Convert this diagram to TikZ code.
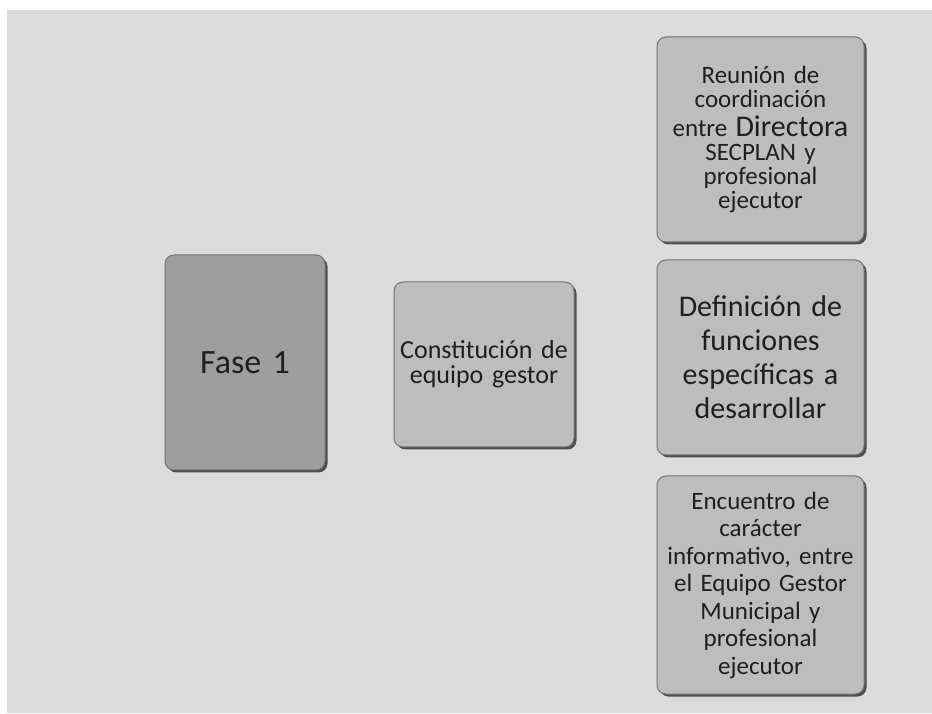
\documentclass[tikz,border=0pt]{standalone}
\usepackage{fontspec}
\setmainfont{Carlito}
\usetikzlibrary{shapes,shadows,positioning}
\definecolor{fg}{rgb}{0.12,0.12,0.12}
\definecolor{page}{gray}{0.86}
\definecolor{faseGris}{gray}{0.62}
\definecolor{tareaGris}{gray}{0.74}
\tikzstyle{box}=[draw=black!55, line width=1pt, rounded corners=9pt,
anchor=center, text centered, text=fg, inner sep=1pt,
drop shadow={shadow xshift=2.5pt, shadow yshift=-2.5pt, fill=black!75, opacity=0.9}]
\tikzstyle{fase}=[box, fill=faseGris, text width=158pt, minimum height=215pt]
\tikzstyle{tarea}=[box, fill=tareaGris]
\tikzstyle{detalle}=[tarea, text width=205pt]

\begin{document}
\begin{tikzpicture}[x=1pt, y=1pt]

    \useasboundingbox (0,0) rectangle (932,713);
    \fill[white] (0,0) rectangle (932,713);
    \fill[page] (7,0) rectangle (932,703);

    % FASE
    \node[fase, font=\fontsize{34}{38}\selectfont] (fase1) at (245,350.5) {Fase 1};

    % EQUIPO GESTOR
    \node[tarea, right=68pt of fase1, yshift=-2pt, text width=178pt, minimum height=165pt,
        font=\fontsize{26}{25}\selectfont] (equipo) {Constitución de\\ equipo gestor};

    % DEFINICION
    \node[detalle, right=82pt of equipo, yshift=7pt, minimum height=195pt,
        font=\fontsize{30}{34}\selectfont] (funciones) {Definición de\\ funciones\\ específicas a\\ desarrollar};

    % REUNION
    \node[detalle, above=17pt of funciones, minimum height=205pt,
        font=\fontsize{25}{24}\selectfont] (reunion) {Reunión de\\ coordinación\\[5pt] entre {\fontsize{30}{24}\selectfont Directora}\\ SECPLAN y\\ profesional\\ ejecutor};

    % ENCUENTRO
    \node[detalle, below=20pt of funciones, minimum height=218pt,
        font=\fontsize{25}{27.5}\selectfont] (encuentro) {Encuentro de\\ carácter\\ informativo, entre\\ el Equipo Gestor\\ Municipal y\\ profesional\\ ejecutor};

\end{tikzpicture}
\end{document}
